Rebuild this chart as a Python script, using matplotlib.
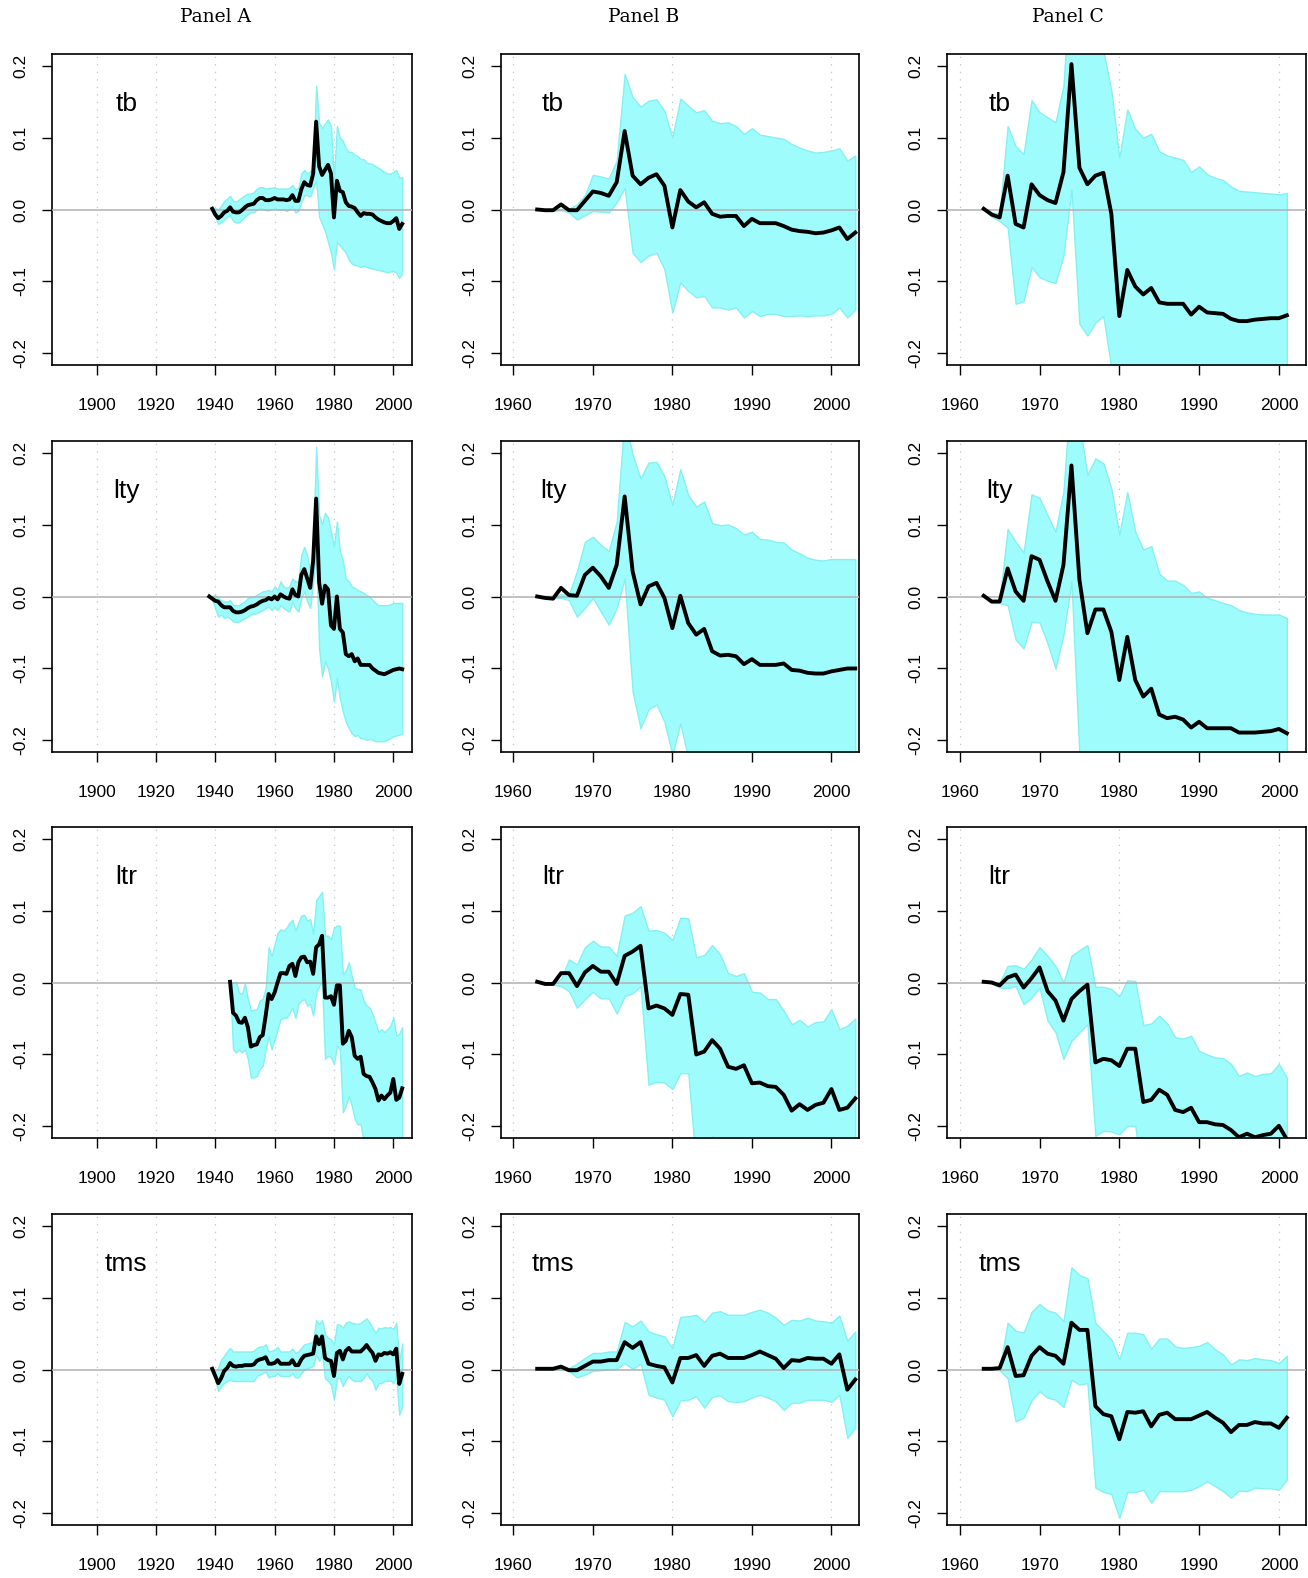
import matplotlib
matplotlib.use("Agg")
import matplotlib.pyplot as plt
import numpy as np

plt.rcParams['axes.unicode_minus'] = False

# ---------------- data ----------------
panel_titles = ["Panel A", "Panel B", "Panel C"]
variables = ["tb", "lty", "ltr", "tms"]

yrs_A_tb = list(range(1939, 2004))
yrs_A_lty = list(range(1938, 2004))
yrs_A_ltr = list(range(1945, 2004))
yrs_A_tms = list(range(1939, 2004))
yrs_B = list(range(1963, 2004))
yrs_C = list(range(1963, 2002))

xticks_A = [1900, 1920, 1940, 1960, 1980, 2000]
xticks_BC = [1960, 1970, 1980, 1990, 2000]
grid_A = [1900, 1920, 1940, 1960, 1980, 2000]
grid_BC = [1960, 1980, 2000]
yticks = [-0.2, -0.1, 0.0, 0.1, 0.2]
ytick_labels = ["-0.2", "-0.1", "0.0", "0.1", "0.2"]

# ---- Panel A ----
A_tb = [0.001, -0.007, -0.012, -0.009, -0.004, -0.002, 0.003, -0.003, -0.004, -0.004,
        -0.001, 0.003, 0.006, 0.007, 0.008, 0.013, 0.016, 0.016, 0.013, 0.013,
        0.014, 0.016, 0.014, 0.014, 0.014, 0.013, 0.014, 0.020, 0.012, 0.012,
        0.028, 0.038, 0.034, 0.033, 0.050, 0.122, 0.060, 0.048, 0.055, 0.062,
        0.050, -0.011, 0.040, 0.026, 0.024, 0.010, 0.005, 0.004, 0.002, -0.004,
        -0.009, -0.005, -0.006, -0.006, -0.007, -0.011, -0.014, -0.016, -0.018, -0.019,
        -0.019, -0.016, -0.012, -0.027, -0.020]
A_tb_hi = [0.0, 0.002, 0.0, 0.005, 0.012, 0.015, 0.019, 0.012, 0.011, 0.014,
           0.017, 0.020, 0.022, 0.022, 0.024, 0.029, 0.031, 0.031, 0.029, 0.030,
           0.030, 0.031, 0.029, 0.029, 0.029, 0.029, 0.030, 0.034, 0.028, 0.030,
           0.050, 0.055, 0.050, 0.053, 0.060, 0.172, 0.120, 0.113, 0.120, 0.125,
           0.116, 0.042, 0.116, 0.100, 0.095, 0.085, 0.080, 0.080, 0.076, 0.074,
           0.070, 0.070, 0.065, 0.064, 0.063, 0.060, 0.058, 0.055, 0.052, 0.050,
           0.050, 0.052, 0.055, 0.044, 0.045]
A_tb_lo = [0.0, -0.010, -0.020, -0.018, -0.014, -0.010, -0.008, -0.016, -0.018, -0.018,
           -0.014, -0.010, -0.006, -0.004, -0.004, 0.0, 0.002, 0.001, -0.001, -0.001,
           0.0, 0.002, 0.0, 0.0, 0.0, -0.002, 0.0, 0.004, -0.004, -0.002,
           0.010, 0.020, 0.020, 0.018, 0.030, 0.040, -0.010, -0.020, -0.030, -0.045,
           -0.060, -0.083, -0.045, -0.050, -0.055, -0.060, -0.070, -0.075, -0.077, -0.078,
           -0.080, -0.078, -0.080, -0.081, -0.082, -0.083, -0.084, -0.085, -0.086, -0.087,
           -0.086, -0.085, -0.088, -0.095, -0.088]

A_lty = [0.0, -0.003, -0.006, -0.007, -0.012, -0.015, -0.015, -0.015, -0.020, -0.022,
         -0.022, -0.021, -0.019, -0.016, -0.014, -0.013, -0.011, -0.008, -0.006, -0.005,
         -0.002, -0.004, 0.0, -0.004, 0.003, 0.0, -0.002, -0.003, 0.010, 0.002,
         0.0, 0.030, 0.038, 0.025, 0.012, 0.050, 0.136, 0.020, -0.010, 0.015,
         0.010, -0.040, -0.045, 0.0, -0.045, -0.050, -0.080, -0.083, -0.080, -0.090,
         -0.086, -0.095, -0.095, -0.095, -0.095, -0.100, -0.103, -0.106, -0.107, -0.108,
         -0.106, -0.104, -0.102, -0.101, -0.100, -0.101]
A_lty_hi = [0.0, 0.001, 0.002, -0.002, -0.005, -0.007, -0.007, -0.005, -0.012, -0.012,
            -0.012, -0.009, -0.007, -0.002, -0.001, 0.0, 0.002, 0.005, 0.007, 0.008,
            0.009, 0.007, 0.014, 0.009, 0.021, 0.014, 0.012, 0.014, 0.025, 0.021,
            0.021, 0.058, 0.069, 0.056, 0.035, 0.072, 0.208, 0.113, 0.100, 0.116,
            0.110, 0.090, 0.070, 0.104, 0.063, 0.050, 0.025, 0.021, 0.014, 0.012,
            0.009, 0.007, 0.005, 0.002, 0.0, -0.005, -0.009, -0.012, -0.012, -0.012,
            -0.012, -0.011, -0.009, -0.009, -0.009, -0.009]
A_lty_lo = [0.0, -0.005, -0.016, -0.028, -0.025, -0.030, -0.028, -0.030, -0.035, -0.035,
            -0.035, -0.032, -0.030, -0.028, -0.025, -0.024, -0.023, -0.021, -0.019, -0.016,
            -0.014, -0.019, -0.014, -0.019, -0.012, -0.016, -0.019, -0.021, -0.007, -0.016,
            -0.021, -0.002, 0.007, -0.007, -0.016, 0.021, 0.067, -0.072, -0.111, -0.090,
            -0.100, -0.118, -0.146, -0.113, -0.141, -0.160, -0.174, -0.183, -0.190, -0.194,
            -0.192, -0.197, -0.197, -0.199, -0.198, -0.199, -0.201, -0.201, -0.201, -0.201,
            -0.199, -0.197, -0.194, -0.193, -0.192, -0.191]

A_ltr = [0.001, -0.042, -0.046, -0.055, -0.056, -0.049, -0.062, -0.089, -0.087, -0.086,
         -0.076, -0.073, -0.046, -0.016, -0.023, -0.014, 0.0, 0.013, 0.013, 0.012,
         0.023, 0.026, 0.009, 0.028, 0.035, 0.036, 0.028, 0.029, 0.012, 0.049,
         0.053, 0.065, -0.021, -0.021, -0.019, -0.031, -0.004, -0.004, -0.085, -0.081,
         -0.067, -0.076, -0.102, -0.106, -0.103, -0.127, -0.130, -0.131, -0.139, -0.148,
         -0.164, -0.157, -0.162, -0.157, -0.153, -0.134, -0.163, -0.160, -0.147]
A_ltr_hi = [0.0, 0.0, 0.001, -0.014, -0.016, -0.001, -0.023, -0.039, -0.038, -0.037,
            -0.025, -0.023, -0.007, 0.049, 0.037, 0.053, 0.069, 0.074, 0.072, 0.076,
            0.083, 0.087, 0.072, 0.083, 0.093, 0.094, 0.086, 0.088, 0.067, 0.114,
            0.120, 0.126, 0.065, 0.065, 0.060, 0.076, 0.079, 0.079, 0.012, 0.016,
            0.028, 0.009, -0.007, -0.009, -0.010, -0.025, -0.032, -0.035, -0.044, -0.056,
            -0.069, -0.065, -0.069, -0.065, -0.060, -0.049, -0.074, -0.071, -0.062]
A_ltr_lo = [0.0, -0.093, -0.097, -0.093, -0.097, -0.093, -0.106, -0.132, -0.132, -0.130,
            -0.120, -0.116, -0.093, -0.074, -0.093, -0.079, -0.065, -0.051, -0.049, -0.049,
            -0.042, -0.035, -0.049, -0.030, -0.025, -0.023, -0.032, -0.030, -0.046, -0.014,
            -0.005, 0.0, -0.106, -0.102, -0.104, -0.113, -0.088, -0.093, -0.180, -0.171,
            -0.157, -0.171, -0.190, -0.197, -0.197, -0.220, -0.225, -0.227, -0.233, -0.240,
            -0.255, -0.250, -0.254, -0.250, -0.246, -0.232, -0.256, -0.253, -0.240]

A_tms = [0.001, -0.009, -0.019, -0.012, -0.002, 0.002, 0.009, 0.005, 0.004, 0.005,
         0.005, 0.006, 0.006, 0.006, 0.007, 0.012, 0.014, 0.015, 0.017, 0.008,
         0.008, 0.009, 0.013, 0.008, 0.008, 0.008, 0.008, 0.013, 0.006, 0.006,
         0.014, 0.019, 0.020, 0.021, 0.022, 0.046, 0.035, 0.046, 0.016, 0.013,
         0.012, -0.009, 0.023, 0.026, 0.014, 0.026, 0.030, 0.025, 0.025, 0.025,
         0.025, 0.029, 0.034, 0.028, 0.023, 0.012, 0.021, 0.020, 0.023, 0.022,
         0.024, 0.021, 0.029, -0.020, -0.006]
A_tms_hi = [0.001, -0.002, 0.002, 0.014, 0.019, 0.025, 0.030, 0.025, 0.025, 0.025,
            0.025, 0.025, 0.025, 0.025, 0.026, 0.030, 0.032, 0.032, 0.035, 0.025,
            0.026, 0.028, 0.031, 0.025, 0.025, 0.025, 0.025, 0.029, 0.023, 0.025,
            0.030, 0.035, 0.036, 0.037, 0.039, 0.069, 0.063, 0.069, 0.049, 0.044,
            0.042, 0.035, 0.063, 0.062, 0.058, 0.065, 0.067, 0.065, 0.064, 0.063,
            0.065, 0.068, 0.071, 0.065, 0.058, 0.051, 0.058, 0.057, 0.059, 0.058,
            0.059, 0.056, 0.065, 0.012, 0.036]
A_tms_lo = [0.001, -0.014, -0.030, -0.023, -0.019, -0.016, -0.014, -0.016, -0.016, -0.016,
            -0.016, -0.016, -0.016, -0.016, -0.016, -0.009, -0.007, -0.005, -0.003, -0.011,
            -0.009, -0.009, -0.005, -0.009, -0.009, -0.009, -0.009, -0.005, -0.011, -0.011,
            -0.005, 0.0, 0.002, 0.003, 0.005, 0.021, 0.012, 0.021, -0.012, -0.016,
            -0.021, -0.042, -0.012, -0.012, -0.023, -0.014, -0.009, -0.014, -0.016, -0.016,
            -0.016, -0.012, -0.005, -0.012, -0.016, -0.028, -0.019, -0.019, -0.016, -0.016,
            -0.015, -0.019, -0.009, -0.063, -0.051]

# ---- Panel B ----
B_tb = [0.0, -0.001, -0.001, 0.007, -0.001, -0.001, 0.012, 0.025, 0.023, 0.019,
        0.038, 0.109, 0.047, 0.035, 0.044, 0.049, 0.033, -0.025, 0.027, 0.011,
        0.003, 0.010, -0.006, -0.010, -0.009, -0.009, -0.023, -0.013, -0.019, -0.019,
        -0.019, -0.023, -0.028, -0.030, -0.031, -0.033, -0.032, -0.029, -0.025, -0.041,
        -0.032]
B_tb_hi = [0.0, 0.0, 0.0, 0.001, 0.001, 0.007, 0.020, 0.048, 0.046, 0.043,
           0.068, 0.188, 0.156, 0.143, 0.151, 0.153, 0.137, 0.100, 0.154, 0.144,
           0.135, 0.138, 0.123, 0.120, 0.121, 0.116, 0.105, 0.113, 0.104, 0.102,
           0.100, 0.098, 0.091, 0.086, 0.082, 0.079, 0.080, 0.082, 0.085, 0.068,
           0.075]
B_tb_lo = [0.0, -0.001, -0.002, -0.001, -0.004, -0.014, -0.008, -0.002, -0.003, -0.004,
           0.010, 0.030, -0.060, -0.073, -0.064, -0.060, -0.083, -0.143, -0.101, -0.113,
           -0.122, -0.120, -0.136, -0.136, -0.139, -0.136, -0.150, -0.141, -0.148, -0.145,
           -0.145, -0.148, -0.148, -0.147, -0.148, -0.147, -0.147, -0.145, -0.136, -0.150,
           -0.139]

B_lty = [0.0, -0.002, -0.003, 0.012, 0.002, 0.001, 0.030, 0.040, 0.028, 0.012,
         0.044, 0.139, 0.035, -0.011, 0.014, 0.019, -0.002, -0.044, 0.001, -0.037,
         -0.053, -0.045, -0.076, -0.082, -0.081, -0.083, -0.094, -0.087, -0.095, -0.095,
         -0.095, -0.093, -0.102, -0.103, -0.106, -0.107, -0.107, -0.104, -0.102, -0.100,
         -0.100]
B_lty_hi = [0.0, 0.001, 0.001, 0.003, 0.003, 0.035, 0.076, 0.083, 0.072, 0.063,
            0.104, 0.250, 0.197, 0.164, 0.186, 0.187, 0.167, 0.127, 0.177, 0.141,
            0.125, 0.132, 0.102, 0.099, 0.100, 0.095, 0.086, 0.090, 0.080, 0.079,
            0.076, 0.075, 0.065, 0.060, 0.054, 0.051, 0.050, 0.052, 0.052, 0.052,
            0.052]
B_lty_lo = [0.0, -0.001, -0.002, -0.002, -0.005, -0.028, -0.016, -0.002, -0.021, -0.039,
            -0.016, 0.025, -0.132, -0.183, -0.157, -0.150, -0.174, -0.220, -0.176, -0.225,
            -0.250, -0.255, -0.260, -0.262, -0.265, -0.265, -0.270, -0.268, -0.270, -0.270,
            -0.270, -0.270, -0.272, -0.273, -0.274, -0.275, -0.275, -0.274, -0.273, -0.272,
            -0.272]

B_ltr = [0.001, -0.002, -0.002, 0.013, 0.013, -0.005, 0.014, 0.023, 0.015, 0.015,
         -0.002, 0.037, 0.043, 0.051, -0.036, -0.032, -0.036, -0.045, -0.016, -0.017,
         -0.100, -0.096, -0.080, -0.092, -0.117, -0.120, -0.115, -0.140, -0.139, -0.144,
         -0.145, -0.156, -0.178, -0.169, -0.177, -0.170, -0.167, -0.148, -0.177, -0.174,
         -0.161]
B_ltr_hi = [0.001, -0.001, -0.001, 0.005, 0.032, 0.025, 0.049, 0.058, 0.050, 0.050,
            0.037, 0.093, 0.097, 0.106, 0.072, 0.073, 0.069, 0.059, 0.090, 0.089,
            0.035, 0.038, 0.052, 0.039, 0.013, 0.009, 0.013, -0.013, -0.014, -0.023,
            -0.023, -0.039, -0.058, -0.052, -0.061, -0.055, -0.054, -0.037, -0.065, -0.060,
            -0.050]
B_ltr_lo = [0.001, -0.003, -0.003, -0.005, -0.012, -0.035, -0.023, -0.013, -0.022, -0.022,
            -0.043, -0.019, -0.015, -0.005, -0.142, -0.138, -0.139, -0.148, -0.126, -0.126,
            -0.256, -0.240, -0.213, -0.255, -0.270, -0.272, -0.270, -0.285, -0.285, -0.288,
            -0.288, -0.295, -0.310, -0.305, -0.310, -0.305, -0.303, -0.290, -0.310, -0.308,
            -0.300]

B_tms = [0.001, 0.001, 0.001, 0.004, -0.001, -0.001, 0.005, 0.011, 0.011, 0.013,
         0.013, 0.038, 0.030, 0.038, 0.008, 0.005, 0.003, -0.018, 0.016, 0.016,
         0.020, 0.005, 0.019, 0.022, 0.016, 0.016, 0.016, 0.020, 0.025, 0.020,
         0.015, 0.002, 0.013, 0.012, 0.016, 0.015, 0.015, 0.008, 0.021, -0.028,
         -0.014]
B_tms_hi = [0.001, 0.001, 0.001, 0.002, 0.002, 0.008, 0.016, 0.023, 0.023, 0.025,
            0.025, 0.066, 0.060, 0.068, 0.053, 0.049, 0.046, 0.030, 0.073, 0.074,
            0.076, 0.066, 0.079, 0.081, 0.076, 0.076, 0.076, 0.080, 0.083, 0.079,
            0.072, 0.062, 0.069, 0.068, 0.072, 0.068, 0.067, 0.065, 0.075, 0.040,
            0.053]
B_tms_lo = [0.001, 0.0, 0.0, 0.0, -0.002, -0.011, -0.007, -0.002, -0.001, 0.0,
            0.001, 0.009, 0.001, 0.008, -0.035, -0.039, -0.042, -0.065, -0.043, -0.042,
            -0.037, -0.053, -0.038, -0.036, -0.044, -0.045, -0.044, -0.039, -0.035, -0.039,
            -0.044, -0.056, -0.046, -0.046, -0.042, -0.042, -0.042, -0.045, -0.035, -0.095,
            -0.081]

# ---- Panel C ----
C_tb = [0.001, -0.007, -0.011, 0.047, -0.020, -0.025, 0.035, 0.020, 0.013, 0.009,
        0.052, 0.202, 0.058, 0.035, 0.047, 0.051, -0.006, -0.148, -0.084, -0.107,
        -0.118, -0.109, -0.129, -0.131, -0.131, -0.131, -0.146, -0.135, -0.143, -0.144,
        -0.145, -0.152, -0.155, -0.155, -0.153, -0.152, -0.151, -0.151, -0.147]
C_tb_hi = [0.001, -0.004, -0.006, 0.116, 0.088, 0.077, 0.152, 0.135, 0.128, 0.121,
           0.172, 0.350, 0.320, 0.300, 0.260, 0.220, 0.165, 0.072, 0.139, 0.112,
           0.100, 0.105, 0.081, 0.075, 0.072, 0.069, 0.052, 0.060, 0.049, 0.044,
           0.041, 0.032, 0.026, 0.025, 0.024, 0.023, 0.022, 0.021, 0.023]
C_tb_lo = [0.001, -0.010, -0.016, -0.025, -0.131, -0.127, -0.080, -0.094, -0.099, -0.102,
           -0.064, 0.028, -0.159, -0.175, -0.157, -0.148, -0.220, -0.350, -0.300, -0.320,
           -0.330, -0.325, -0.335, -0.335, -0.338, -0.336, -0.345, -0.340, -0.342, -0.343,
           -0.343, -0.345, -0.346, -0.346, -0.345, -0.345, -0.344, -0.344, -0.340]

C_lty = [0.001, -0.007, -0.007, 0.039, 0.007, -0.006, 0.056, 0.051, 0.021, -0.006,
         0.044, 0.182, 0.023, -0.051, -0.018, -0.018, -0.049, -0.116, -0.056, -0.116,
         -0.139, -0.128, -0.164, -0.169, -0.167, -0.171, -0.182, -0.174, -0.183, -0.183,
         -0.183, -0.183, -0.189, -0.189, -0.189, -0.188, -0.187, -0.184, -0.190]
C_lty_hi = [0.001, -0.005, -0.005, 0.094, 0.076, 0.061, 0.142, 0.137, 0.113, 0.090,
            0.146, 0.300, 0.240, 0.169, 0.192, 0.185, 0.150, 0.086, 0.145, 0.090,
            0.065, 0.070, 0.032, 0.022, 0.022, 0.016, 0.005, 0.007, -0.002, -0.005,
            -0.009, -0.012, -0.019, -0.022, -0.024, -0.025, -0.025, -0.025, -0.030]
C_lty_lo = [0.001, -0.009, -0.009, -0.012, -0.060, -0.072, -0.035, -0.036, -0.065, -0.100,
            -0.053, 0.021, -0.220, -0.320, -0.290, -0.290, -0.320, -0.380, -0.330, -0.380,
            -0.400, -0.390, -0.420, -0.425, -0.425, -0.428, -0.435, -0.430, -0.436, -0.436,
            -0.436, -0.436, -0.440, -0.440, -0.440, -0.439, -0.438, -0.436, -0.440]

C_ltr = [0.001, 0.0, -0.004, 0.007, 0.011, -0.007, 0.006, 0.021, -0.012, -0.025,
         -0.053, -0.023, -0.012, -0.003, -0.111, -0.106, -0.108, -0.116, -0.092, -0.092,
         -0.166, -0.163, -0.149, -0.156, -0.177, -0.180, -0.174, -0.194, -0.194, -0.197,
         -0.198, -0.205, -0.215, -0.210, -0.215, -0.212, -0.210, -0.199, -0.218]
C_ltr_hi = [0.001, 0.0, 0.0, 0.023, 0.024, 0.019, 0.032, 0.049, 0.037, 0.023,
            0.0, 0.037, 0.045, 0.052, -0.006, -0.006, -0.009, -0.019, 0.003, 0.002,
            -0.059, -0.057, -0.046, -0.057, -0.076, -0.078, -0.074, -0.095, -0.100, -0.104,
            -0.105, -0.113, -0.130, -0.125, -0.130, -0.127, -0.126, -0.113, -0.132]
C_ltr_lo = [0.001, -0.001, -0.007, -0.008, -0.005, -0.030, -0.021, -0.007, -0.053, -0.069,
            -0.106, -0.081, -0.069, -0.058, -0.213, -0.206, -0.207, -0.211, -0.199, -0.199,
            -0.280, -0.278, -0.265, -0.272, -0.290, -0.293, -0.288, -0.305, -0.308, -0.312,
            -0.313, -0.320, -0.330, -0.326, -0.330, -0.328, -0.326, -0.315, -0.333]

C_tms = [0.001, 0.001, 0.002, 0.031, -0.009, -0.008, 0.019, 0.031, 0.022, 0.019,
         0.008, 0.065, 0.055, 0.055, -0.051, -0.062, -0.065, -0.097, -0.059, -0.060,
         -0.058, -0.079, -0.063, -0.060, -0.069, -0.069, -0.069, -0.064, -0.059, -0.067,
         -0.074, -0.087, -0.077, -0.077, -0.073, -0.075, -0.075, -0.081, -0.067]
C_tms_hi = [0.001, 0.001, 0.002, 0.065, 0.054, 0.051, 0.080, 0.091, 0.082, 0.079,
            0.067, 0.142, 0.131, 0.127, 0.065, 0.053, 0.042, 0.014, 0.051, 0.051,
            0.049, 0.029, 0.043, 0.043, 0.032, 0.030, 0.031, 0.033, 0.038, 0.028,
            0.021, 0.007, 0.014, 0.013, 0.016, 0.014, 0.013, 0.009, 0.019]
C_tms_lo = [0.001, 0.0, -0.001, -0.012, -0.072, -0.067, -0.043, -0.030, -0.039, -0.042,
            -0.052, -0.014, -0.021, -0.019, -0.164, -0.170, -0.173, -0.206, -0.170, -0.170,
            -0.167, -0.185, -0.169, -0.169, -0.169, -0.169, -0.167, -0.162, -0.155, -0.162,
            -0.169, -0.178, -0.168, -0.169, -0.164, -0.165, -0.165, -0.167, -0.153]

# ---------------- layout ----------------
W, H = 1308, 1578
fig = plt.figure(figsize=(W / 100, H / 100), dpi=100)

col_left = [52, 501, 947]
col_width = [360, 358, 359]
row_top = [54, 441, 827, 1214]
row_height = 311

xlims = [(1885.0, 2006.3), (1958.45, 2003.47), (1958.4, 2003.4)]
label_x = [1910, 1965, 1965]

panels = [
    [(yrs_A_tb, A_tb, A_tb_lo, A_tb_hi), (yrs_A_lty, A_lty, A_lty_lo, A_lty_hi),
     (yrs_A_ltr, A_ltr, A_ltr_lo, A_ltr_hi), (yrs_A_tms, A_tms, A_tms_lo, A_tms_hi)],
    [(yrs_B, B_tb, B_tb_lo, B_tb_hi), (yrs_B, B_lty, B_lty_lo, B_lty_hi),
     (yrs_B, B_ltr, B_ltr_lo, B_ltr_hi), (yrs_B, B_tms, B_tms_lo, B_tms_hi)],
    [(yrs_C, C_tb, C_tb_lo, C_tb_hi), (yrs_C, C_lty, C_lty_lo, C_lty_hi),
     (yrs_C, C_ltr, C_ltr_lo, C_ltr_hi), (yrs_C, C_tms, C_tms_lo, C_tms_hi)],
]

band_face = '#9ffcfc'
band_edge = '#86f0f0'
sans = 'Liberation Sans'

for c in range(3):
    for r in range(4):
        yrs, mid, lo, hi = panels[c][r]
        assert len(yrs) == len(mid) == len(lo) == len(hi)
        l = col_left[c]; w = col_width[c]; t = row_top[r]
        ax = fig.add_axes([l / W, 1 - (t + row_height) / H, w / W, row_height / H])
        ax.set_xlim(*xlims[c])
        ax.set_ylim(-0.216, 0.216)
        grid = grid_A if c == 0 else grid_BC
        for g in grid:
            ax.axvline(g, color='#c4c4c4', lw=0.9, linestyle=(0, (1, 5)), zorder=1)
        ax.fill_between(yrs, lo, hi, facecolor=band_face, edgecolor=band_edge,
                        lw=1.0, zorder=2)
        ax.axhline(0, color='#b0b0b0', lw=1.1, zorder=3)
        ax.plot(yrs, mid, color='black', lw=2.8, zorder=4, solid_joinstyle='round')
        ax.text(label_x[c], 0.146, variables[r], ha='center', va='center',
                fontsize=19, family=sans, zorder=5)
        ax.set_xticks(xticks_A if c == 0 else xticks_BC)
        ax.set_xticklabels([str(v) for v in (xticks_A if c == 0 else xticks_BC)],
                           family=sans, fontsize=12.5)
        ax.set_yticks(yticks)
        ax.set_yticklabels(ytick_labels, rotation=90, va='center', family=sans,
                           fontsize=12.5)
        ax.tick_params(axis='both', direction='out', length=7, width=1.0, color='black')
        ax.tick_params(axis='x', pad=17)
        ax.tick_params(axis='y', pad=10)
        for sp in ax.spines.values():
            sp.set_linewidth(1.2)
            sp.set_color('black')

title_x = [216, 644, 1068]
for c in range(3):
    fig.text(title_x[c] / W, 1 - 17 / H, panel_titles[c], ha='center', va='center',
             family='DejaVu Serif', fontsize=13.5)

fig.savefig('out.png', dpi=100)
